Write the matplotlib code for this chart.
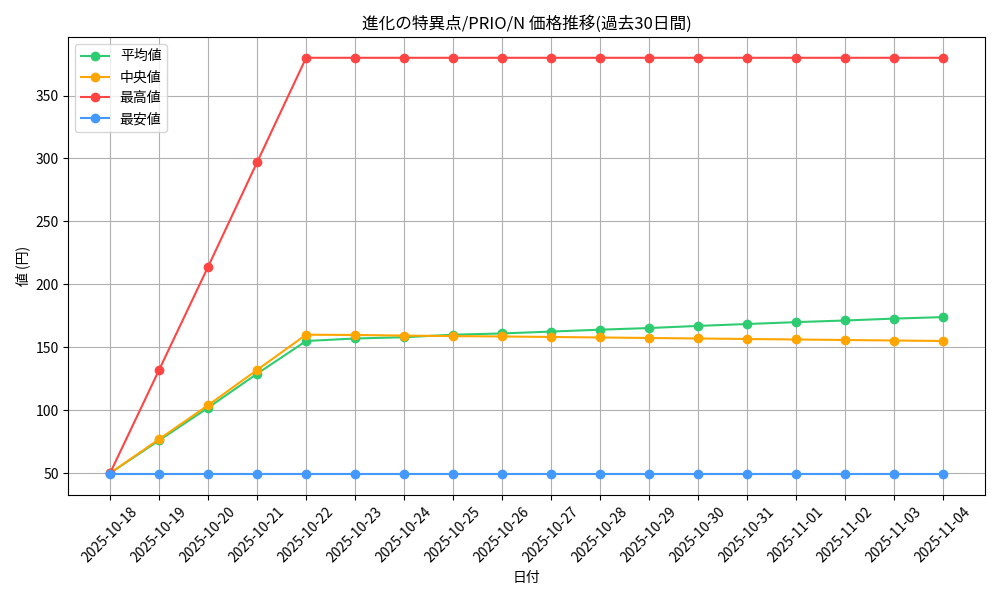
import matplotlib.pyplot as plt

plt.rcParams['font.family'] = ['Noto Sans CJK JP', 'DejaVu Sans']

dates = ['2025-10-18', '2025-10-19', '2025-10-20', '2025-10-21', '2025-10-22', '2025-10-23',
         '2025-10-24', '2025-10-25', '2025-10-26', '2025-10-27', '2025-10-28', '2025-10-29',
         '2025-10-30', '2025-10-31', '2025-11-01', '2025-11-02', '2025-11-03', '2025-11-04']
mean_vals = [50, 76, 102, 129, 155, 157, 158, 160, 161, 162.5, 164, 165.3, 167, 168.5, 170, 171.3, 172.8, 174]
median_vals = [50, 77, 104, 132, 160, 159.8, 159.3, 158.9, 158.6, 158.2, 157.8, 157.4, 157, 156.6, 156.2, 155.8, 155.4, 155]
max_vals = [50, 132, 214, 297, 380, 380, 380, 380, 380, 380, 380, 380, 380, 380, 380, 380, 380, 380]
min_vals = [49] * 18

plt.figure(figsize=(10, 6))
plt.plot(dates, mean_vals, marker='o', color='#2ecc71', label='平均値')
plt.plot(dates, median_vals, marker='o', color='#ffa500', label='中央値')
plt.plot(dates, max_vals, marker='o', color='#ff4444', label='最高値')
plt.plot(dates, min_vals, marker='o', color='#4499ff', label='最安値')
plt.title('進化の特異点/PRIO/N 価格推移(過去30日間)')
plt.xlabel('日付')
plt.ylabel('値 (円)')
plt.xticks(rotation=45)
plt.grid(True)
plt.legend(loc='upper left')
plt.tight_layout()
plt.savefig('out.png', dpi=100)
